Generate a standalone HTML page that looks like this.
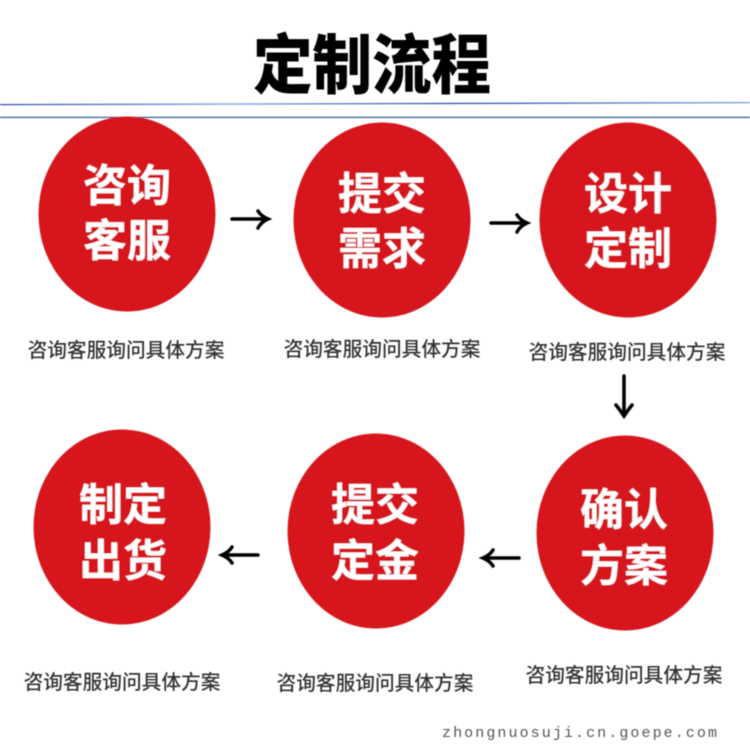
<!DOCTYPE html>
<html><head><meta charset="utf-8"><style>
html,body{margin:0;padding:0;background:#fff}
svg{display:block}
.c{font-family:"Liberation Sans","Noto Sans CJK SC",sans-serif;font-weight:700;fill:#fff;font-size:44px;text-anchor:middle}
.s{font-family:"Liberation Sans","Noto Sans CJK SC",sans-serif;font-weight:500;fill:#333;font-size:19.7px;text-anchor:middle}
</style></head><body>
<svg width="750" height="750" viewBox="0 0 750 750" xmlns="http://www.w3.org/2000/svg">
<defs>
<linearGradient id="g" x1="0" x2="1" y1="0" y2="0"><stop offset="0" stop-color="#2f55a0"/><stop offset=".3" stop-color="#7d9be0"/><stop offset=".6" stop-color="#2f55a0"/><stop offset="1" stop-color="#7d9be0"/></linearGradient>
<filter id="b" x="-5%" y="-5%" width="110%" height="110%"><feGaussianBlur stdDeviation="0.4"/></filter>
</defs>
<g filter="url(#b)">
<text x="372" y="88" text-anchor="middle" font-family="'Liberation Sans','Noto Sans CJK SC',sans-serif" font-weight="900" font-size="65" fill="#000" textLength="238" lengthAdjust="spacingAndGlyphs">定制流程</text>
<polygon points="0,104 750,102 750,103.300 0,105.300" fill="url(#g)"/>
<rect x="0" y="116.800" width="750" height="1.200" fill="#2c5597"/>

<ellipse cx="127" cy="214" rx="88.500" ry="97.500" fill="#d6151f"/>
<ellipse cx="382" cy="220" rx="88.500" ry="97.500" fill="#d6151f"/>
<ellipse cx="628" cy="220" rx="88.500" ry="97.500" fill="#d6151f"/>
<ellipse cx="122" cy="527" rx="88.500" ry="97.500" fill="#d6151f"/>
<ellipse cx="376" cy="531" rx="88.500" ry="97.500" fill="#d6151f"/>
<ellipse cx="625" cy="533" rx="88.500" ry="97.500" fill="#d6151f"/>

<text class="c" x="127" y="201">咨询</text><text class="c" x="127" y="256">客服</text>
<text class="c" x="382" y="209">提交</text><text class="c" x="382" y="264">需求</text>
<text class="c" x="628" y="209">设计</text><text class="c" x="628" y="264">定制</text>
<text class="c" x="123" y="520">制定</text><text class="c" x="123" y="576">出货</text>
<text class="c" x="375" y="520">提交</text><text class="c" x="375" y="576">定金</text>
<text class="c" x="624" y="525">确认</text><text class="c" x="624" y="581">方案</text>

<text class="s" x="126" y="357">咨询客服询问具体方案</text>
<text class="s" x="382" y="356">咨询客服询问具体方案</text>
<text class="s" x="627" y="359">咨询客服询问具体方案</text>
<text class="s" x="122" y="689">咨询客服询问具体方案</text>
<text class="s" x="375" y="690">咨询客服询问具体方案</text>
<text class="s" x="624" y="682">咨询客服询问具体方案</text>

<g fill="none" stroke="#000" stroke-width="3.5" stroke-linecap="round">
<path d="M232 219H266M258 211Q261 216 268 219Q261 222 258 228"/>
<path d="M491 223H525M517 215Q520 220 527 223Q520 226 517 232"/>
<path d="M624 376V414M616 405Q620 410 624 416Q628 410 632 405"/>
<path d="M519 558H485M493 550Q490 555 483 558Q490 561 493 566"/>
<path d="M258 555H224M232 547Q229 552 222 555Q229 558 232 563"/>
</g>
<text x="442" y="737" font-family="'Liberation Mono',monospace" font-size="15" fill="#555" textLength="275" lengthAdjust="spacing">zhongnuosuji.cn.goepe.com</text>
</g>
</svg>
</body></html>
